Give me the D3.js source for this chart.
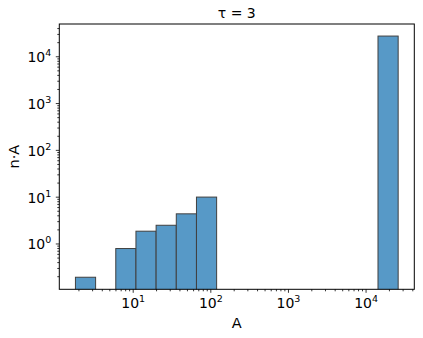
<!DOCTYPE html>
<html>
<head>
<meta charset="utf-8">
<script src="https://cdn.jsdelivr.net/npm/d3@7"></script>
<style>
  body { margin: 0; background: #fff; }
  text { font-family: "DejaVu Sans", sans-serif; fill: #000; }
</style>
</head>
<body>
<svg id="chart" width="423" height="338"></svg>
<script>
// histogram of A, log-spaced bins, height = n·A
const binLow = 1.83;
const binHigh = 26300;
const binValues = [0.19, 0, 0.78, 1.83, 2.45, 4.3, 9.8, 0, 0, 0, 0, 0, 0, 0, 0, 27000];
const xMajorTicks = [1e1, 1e2, 1e3, 1e4];
const yMajorTicks = [1e0, 1e1, 1e2, 1e3, 1e4];
const titleText = "τ = 3";
const xLabel = "A";
const yLabel = "n·A";

const W = 423, H = 338;
const M = { left: 59.3, right: W - 414.3, top: 24, bottom: H - 289.3 };
const iw = W - M.left - M.right;
const ih = H - M.top - M.bottom;

// bin edges, evenly spaced in log
const nBins = binValues.length;
const logLo = Math.log10(binLow), logHi = Math.log10(binHigh);
const edges = d3.range(nBins + 1).map(i => Math.pow(10, logLo + (logHi - logLo) * i / nBins));
const bins = binValues.map((v, i) => ({ x0: edges[i], x1: edges[i + 1], v }));

// matplotlib style 5% margins in log space
const xSpan = logHi - logLo;
const x = d3.scaleLog()
  .domain([Math.pow(10, logLo - 0.05 * xSpan), Math.pow(10, logHi + 0.05 * xSpan)])
  .range([0, iw]);
const pos = binValues.filter(v => v > 0);
const yLo = Math.log10(d3.min(pos)), yHi = Math.log10(d3.max(pos));
const ySpan = yHi - yLo;
const y = d3.scaleLog()
  .domain([Math.pow(10, yLo - 0.05 * ySpan), Math.pow(10, yHi + 0.05 * ySpan)])
  .range([ih, 0]);

const svg = d3.select("#chart");
const g = svg.append("g").attr("transform", `translate(${M.left},${M.top})`);

svg.append("defs").append("clipPath").attr("id", "plotclip")
  .append("rect").attr("width", iw).attr("height", ih);

g.append("g").attr("clip-path", "url(#plotclip)")
  .selectAll("rect").data(bins.filter(b => b.v > 0)).join("rect")
  .attr("x", d => x(d.x0))
  .attr("width", d => x(d.x1) - x(d.x0))
  .attr("y", d => y(d.v))
  .attr("height", d => ih + 5 - y(d.v))
  .attr("fill", "#5799c7")
  .attr("stroke", "#404040")
  .attr("stroke-width", 1);

function minorTicks(scale) {
  const [a, b] = scale.domain();
  const out = [];
  for (let e = Math.floor(Math.log10(a)); e <= Math.ceil(Math.log10(b)); e++) {
    for (let m = 2; m <= 9; m++) {
      const t = m * Math.pow(10, e);
      if (t >= a && t <= b) out.push(t);
    }
  }
  return out;
}

function styleAxis(sel) {
  sel.select(".domain").remove();
  sel.selectAll(".tick line").attr("stroke", "#000").attr("stroke-width", 0.8);
}

// minor ticks
g.append("g").attr("transform", `translate(0,${ih})`)
  .call(d3.axisBottom(x).tickValues(minorTicks(x)).tickSize(2).tickFormat(""))
  .call(styleAxis);
g.append("g")
  .call(d3.axisLeft(y).tickValues(minorTicks(y)).tickSize(2).tickFormat(""))
  .call(styleAxis);

// major ticks with 10^n labels
const xAx = g.append("g").attr("transform", `translate(0,${ih})`)
  .call(d3.axisBottom(x).tickValues(xMajorTicks).tickSize(3.5).tickFormat(""))
  .call(styleAxis);
xAx.selectAll(".tick").append("text")
  .attr("y", 18.5)
  .attr("text-anchor", "middle")
  .each(function (d) { powLabel(d3.select(this), d); });

const yAx = g.append("g")
  .call(d3.axisLeft(y).tickValues(yMajorTicks).tickSize(3.5).tickFormat(""))
  .call(styleAxis);
yAx.selectAll(".tick").append("text")
  .attr("x", -8)
  .attr("y", 5.5)
  .attr("text-anchor", "end")
  .each(function (d) { powLabel(d3.select(this), d); });

function powLabel(t, d) {
  t.attr("font-size", 14);
  t.append("tspan").text("10");
  t.append("tspan").attr("font-size", 9.5).attr("dy", -6).text(Math.round(Math.log10(d)));
}

// frame
g.append("rect").attr("width", iw).attr("height", ih)
  .attr("fill", "none").attr("stroke", "#000").attr("stroke-width", 1);

svg.append("text").attr("x", M.left + iw / 2).attr("y", 18.3)
  .attr("text-anchor", "middle").attr("font-size", 14).text(titleText);
svg.append("text").attr("x", M.left + iw / 2).attr("y", 327.7)
  .attr("text-anchor", "middle").attr("font-size", 14.5).text(xLabel);
svg.append("text")
  .attr("transform", `translate(18.5,${M.top + ih / 2}) rotate(-90)`)
  .attr("text-anchor", "middle").attr("font-size", 14.5).text(yLabel);
</script>
</body>
</html>
